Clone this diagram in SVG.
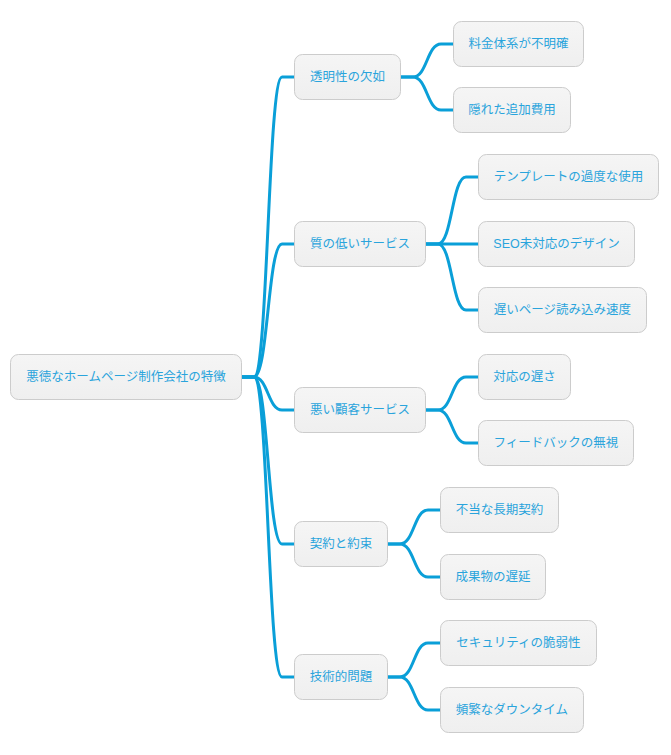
<svg xmlns="http://www.w3.org/2000/svg" width="671" height="755" viewBox="0 0 671 755">
<defs>
<linearGradient id="g" x1="0" y1="0" x2="0" y2="1"><stop offset="0" stop-color="#f5f5f5"/><stop offset="1" stop-color="#efefef"/></linearGradient>
<style>
.n rect{fill:url(#g);stroke:#cccccc;stroke-width:1}
.n text{font-family:"Liberation Sans","Noto Sans CJK JP",sans-serif;font-size:12.5px;fill:#2aa4dc;text-anchor:middle;dominant-baseline:central}
.c path{fill:none;stroke:#0a9fd8;stroke-width:3}
</style>
</defs>
<rect width="671" height="755" fill="#ffffff"/>
<g class="c" id="connectors">
<path d="M242 377H254C268 377 268 77 282 77H294"/>
<path d="M242 377H254C268 377 268 244 282 244H294"/>
<path d="M242 377H254C268 377 268 410 282 410H294"/>
<path d="M242 377H254C268 377 268 544 282 544H294"/>
<path d="M242 377H254C268 377 268 677 282 677H294"/>
<path d="M401 77H413C427 77 427 44 441 44H453"/>
<path d="M401 77H413C427 77 427 110 441 110H453"/>
<path d="M426 244H438C452 244 452 177 466 177H478"/>
<path d="M426 244H478"/>
<path d="M426 244H438C452 244 452 310 466 310H478"/>
<path d="M426 410H438C452 410 452 377 466 377H478"/>
<path d="M426 410H438C452 410 452 443 466 443H478"/>
<path d="M388 544H400C414 544 414 510 428 510H440"/>
<path d="M388 544H400C414 544 414 577 428 577H440"/>
<path d="M388 677H400C414 677 414 643 428 643H440"/>
<path d="M388 677H400C414 677 414 710 428 710H440"/>
</g>
<g class="n" id="root"><rect x="10.5" y="354.5" width="231" height="45" rx="8"/><text x="126" y="377">悪徳なホームページ制作会社の特徴</text></g>
<g class="n" id="n1"><rect x="294.5" y="54.5" width="106" height="45" rx="8"/><text x="347.5" y="77">透明性の欠如</text></g>
<g class="n" id="n2"><rect x="294.5" y="221.5" width="131" height="45" rx="8"/><text x="360" y="244">質の低いサービス</text></g>
<g class="n" id="n3"><rect x="294.5" y="387.5" width="131" height="45" rx="8"/><text x="360" y="410">悪い顧客サービス</text></g>
<g class="n" id="n4"><rect x="294.5" y="521.5" width="93" height="45" rx="8"/><text x="341" y="544">契約と約束</text></g>
<g class="n" id="n5"><rect x="294.5" y="654.5" width="93" height="45" rx="8"/><text x="341" y="677">技術的問題</text></g>
<g class="n" id="n1a"><rect x="453.5" y="21.5" width="130" height="45" rx="8"/><text x="518.5" y="44">料金体系が不明確</text></g>
<g class="n" id="n1b"><rect x="453.5" y="87.5" width="117" height="45" rx="8"/><text x="512" y="110">隠れた追加費用</text></g>
<g class="n" id="n2a"><rect x="478.5" y="154.5" width="180" height="45" rx="8"/><text x="568.5" y="177">テンプレートの過度な使用</text></g>
<g class="n" id="n2b"><rect x="478.5" y="221.5" width="156" height="45" rx="8"/><text x="556.5" y="244">SEO未対応のデザイン</text></g>
<g class="n" id="n2c"><rect x="478.5" y="287.5" width="168" height="45" rx="8"/><text x="562.5" y="310">遅いページ読み込み速度</text></g>
<g class="n" id="n3a"><rect x="478.5" y="354.5" width="92" height="45" rx="8"/><text x="524.5" y="377">対応の遅さ</text></g>
<g class="n" id="n3b"><rect x="478.5" y="420.5" width="155" height="45" rx="8"/><text x="556" y="443">フィードバックの無視</text></g>
<g class="n" id="n4a"><rect x="440.5" y="487.5" width="118" height="45" rx="8"/><text x="499.5" y="510">不当な長期契約</text></g>
<g class="n" id="n4b"><rect x="440.5" y="554.5" width="105" height="45" rx="8"/><text x="493" y="577">成果物の遅延</text></g>
<g class="n" id="n5a"><rect x="440.5" y="620.5" width="156" height="45" rx="8"/><text x="518.5" y="643">セキュリティの脆弱性</text></g>
<g class="n" id="n5b"><rect x="440.5" y="687.5" width="143" height="45" rx="8"/><text x="512" y="710">頻繁なダウンタイム</text></g>
</svg>
